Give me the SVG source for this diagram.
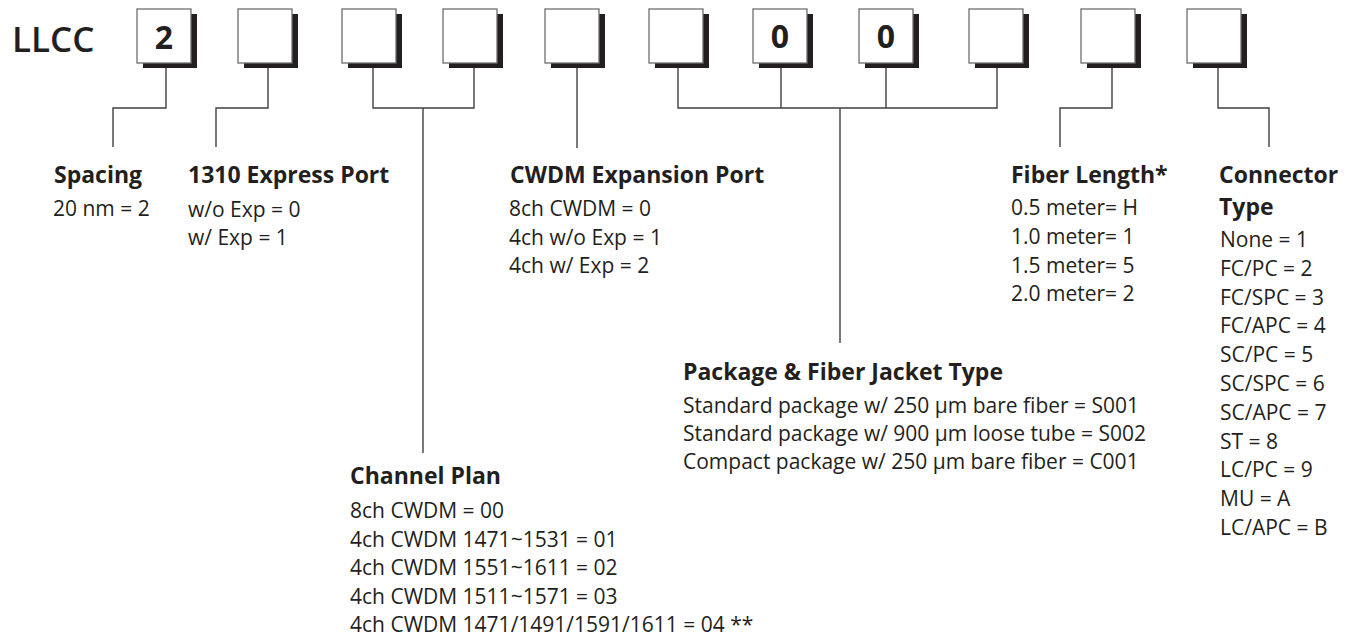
<svg xmlns="http://www.w3.org/2000/svg" width="1353" height="640" viewBox="0 0 1353 640">
<style>
text{font-family:"Open Sans","Noto Sans","Liberation Sans",sans-serif;fill:#231f20}
.t{font-size:35px;font-weight:600}
.d{font-size:32px;font-weight:700;text-anchor:middle}
.h{font-size:23px;font-weight:700}
.b{font-size:21px;font-weight:400}
.box{fill:#fff;stroke:#6d6e71;stroke-width:1.3}
.sh{fill:#231f20}
.c{fill:none;stroke:#414042;stroke-width:1.4}
</style>
<defs>
<g id="bx"><rect class="sh" x="6" y="5" width="54" height="54"/><rect class="box" x="0" y="0" width="54" height="54"/></g>
</defs>
<text class="t" x="12" y="52">LLCC</text>
<g id="box1"><use href="#bx" x="137" y="9"/><text class="d" x="164" y="49">2</text></g>
<g id="box2"><use href="#bx" x="238" y="9"/></g>
<g id="box3"><use href="#bx" x="342" y="9"/></g>
<g id="box4"><use href="#bx" x="443" y="9"/></g>
<g id="box5"><use href="#bx" x="545" y="9"/></g>
<g id="box6"><use href="#bx" x="649" y="9"/></g>
<g id="box7"><use href="#bx" x="753" y="9"/><text class="d" x="780" y="48">0</text></g>
<g id="box8"><use href="#bx" x="859" y="9"/><text class="d" x="886" y="48">0</text></g>
<g id="box9"><use href="#bx" x="969" y="9"/></g>
<g id="box10"><use href="#bx" x="1081" y="9"/></g>
<g id="box11"><use href="#bx" x="1187" y="9"/></g>
<g id="connectors" class="c">
<path d="M166 68V108H113V147"/>
<path d="M268 68V108H216V147"/>
<path d="M373 68V108H474V68M423 108V453"/>
<path d="M577 68V148"/>
<path d="M678 68V108H997V68M781 68V108M886 68V108M840 108V343"/>
<path d="M1112 68V108H1060V147"/>
<path d="M1218 68V108H1269V147"/>
</g>
<g id="spacing">
<text class="h" x="54" y="183">Spacing</text>
<text class="b" x="53" y="216">20 nm = 2</text>
</g>
<g id="express">
<text class="h" x="188" y="183">1310 Express Port</text>
<text class="b" x="188" y="216.5">w/o Exp = 0</text>
<text class="b" x="188" y="245">w/ Exp = 1</text>
</g>
<g id="expansion">
<text class="h" x="510" y="183">CWDM Expansion Port</text>
<text class="b" x="509" y="216">8ch CWDM = 0</text>
<text class="b" x="509" y="245">4ch w/o Exp = 1</text>
<text class="b" x="509" y="273">4ch w/ Exp = 2</text>
</g>
<g id="fiberlength">
<text class="h" x="1011" y="183">Fiber Length*</text>
<text class="b" x="1011" y="215">0.5 meter= H</text>
<text class="b" x="1011" y="243.7">1.0 meter= 1</text>
<text class="b" x="1011" y="272.5">1.5 meter= 5</text>
<text class="b" x="1011" y="301">2.0 meter= 2</text>
</g>
<g id="connector">
<text class="h" x="1219" y="183">Connector</text>
<text class="h" x="1219" y="215">Type</text>
<text class="b" x="1220" y="247">None = 1</text>
<text class="b" x="1220" y="275.8">FC/PC = 2</text>
<text class="b" x="1220" y="304.6">FC/SPC = 3</text>
<text class="b" x="1220" y="333.4">FC/APC = 4</text>
<text class="b" x="1220" y="362.2">SC/PC = 5</text>
<text class="b" x="1220" y="391">SC/SPC = 6</text>
<text class="b" x="1220" y="419.8">SC/APC = 7</text>
<text class="b" x="1220" y="448.6">ST = 8</text>
<text class="b" x="1220" y="477.4">LC/PC = 9</text>
<text class="b" x="1220" y="506.2">MU = A</text>
<text class="b" x="1220" y="535">LC/APC = B</text>
</g>
<g id="package">
<text class="h" x="683" y="380">Package &amp; Fiber Jacket Type</text>
<text class="b" x="683" y="413">Standard package w/ 250 µm bare fiber = S001</text>
<text class="b" x="683" y="441">Standard package w/ 900 µm loose tube = S002</text>
<text class="b" x="683" y="469">Compact package w/ 250 µm bare fiber = C001</text>
</g>
<g id="channel">
<text class="h" x="350" y="484">Channel Plan</text>
<text class="b" x="350" y="518">8ch CWDM = 00</text>
<text class="b" x="350" y="547">4ch CWDM 1471~1531 = 01</text>
<text class="b" x="350" y="575">4ch CWDM 1551~1611 = 02</text>
<text class="b" x="350" y="604">4ch CWDM 1511~1571 = 03</text>
<text class="b" x="350" y="632">4ch CWDM 1471/1491/1591/1611 = 04 **</text>
</g>
</svg>
